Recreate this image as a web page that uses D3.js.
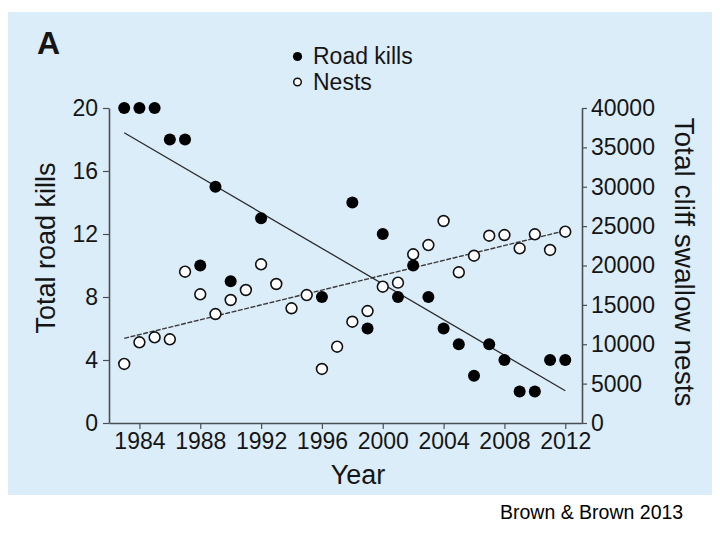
<!DOCTYPE html>
<html>
<head>
<meta charset="utf-8">
<script src="https://cdn.jsdelivr.net/npm/d3@7"></script>
<style>
  html, body { margin: 0; padding: 0; background: #ffffff; }
  svg { display: block; font-family: "Liberation Sans", Arial, Helvetica, sans-serif; }
</style>
</head>
<body>
<svg id="chart" width="720" height="540"></svg>
<script>
// ---- Data ----
const killYears = [1983, 1984, 1985, 1986, 1987, 1988, 1989, 1990, 1992, 1996, 1998, 1999, 2000,
                   2001, 2002, 2003, 2004, 2005, 2006, 2007, 2008, 2009, 2010, 2011, 2012];
const roadKills = [20, 20, 20, 18, 18, 10, 15, 9, 13, 8, 14, 6, 12,
                   8, 10, 8, 6, 5, 3, 5, 4, 2, 2, 4, 4];

const nestYears = [1983, 1984, 1985, 1986, 1987, 1988, 1989, 1990, 1991, 1992, 1993, 1994, 1995,
                   1996, 1997, 1998, 1999, 2000, 2001, 2002, 2003, 2004, 2005, 2006, 2007,
                   2008, 2009, 2010, 2011, 2012];
const nests = [7500, 10250, 10880, 10630, 19210, 16340, 13840, 15620, 16890, 20150, 17650, 14570, 16250,
               6860, 9690, 12860, 14220, 17310, 17820, 21420, 22600, 25650, 19140, 21240, 23780,
               23870, 22180, 23960, 21970, 24290];

// fitted trend lines (endpoints)
const trendYears = [1983, 2012];
const killTrend = [18.43, 2.05];
const nestTrend = [10750, 24420];

const xTicks = [1984, 1988, 1992, 1996, 2000, 2004, 2008, 2012];
const leftTicks = [0, 4, 8, 12, 16, 20];
const rightTicks = [0, 5000, 10000, 15000, 20000, 25000, 30000, 35000, 40000];

// ---- Layout ----
const svg = d3.select("#chart");
svg.append("rect").attr("x", 8).attr("y", 12).attr("width", 704).attr("height", 483)
  .attr("fill", "#dcedfa");

const x = d3.scaleLinear().domain([1982, 2013.1]).range([109, 582]);
const yL = d3.scaleLinear().domain([0, 20]).range([423, 108]);
const yR = d3.scaleLinear().domain([0, 40000]).range([423, 108]);

const axisColor = "#4a4f55";
const textColor = "#151515";

function styleAxis(g) {
  g.selectAll(".domain").attr("stroke", axisColor).attr("stroke-width", 1.6);
  g.selectAll(".tick line").attr("stroke", axisColor).attr("stroke-width", 1.2);
  g.selectAll(".tick text").attr("fill", textColor).attr("font-size", 23)
    .attr("font-family", "'Liberation Sans', Arial, sans-serif");
}

svg.append("g").attr("transform", "translate(0,423)")
  .call(d3.axisBottom(x).tickValues(xTicks).tickFormat(d3.format("d")).tickSize(6).tickSizeOuter(0).tickPadding(4))
  .call(styleAxis);

svg.append("g").attr("transform", "translate(109,0)")
  .call(d3.axisLeft(yL).tickValues(leftTicks).tickSize(6).tickSizeOuter(0).tickPadding(5))
  .call(styleAxis);

svg.append("g").attr("transform", "translate(582,0)")
  .call(d3.axisRight(yR).tickValues(rightTicks).tickFormat(d3.format("d")).tickSize(5).tickSizeOuter(0).tickPadding(4))
  .call(styleAxis);

// ---- Trend lines ----
const killLine = d3.line().x((d, i) => x(trendYears[i])).y(d => yL(d));
svg.append("path").datum(killTrend).attr("d", killLine)
  .attr("fill", "none").attr("stroke", "#2a2a2a").attr("stroke-width", 1.3);

const nestLine = d3.line().x((d, i) => x(trendYears[i])).y(d => yR(d));
svg.append("path").datum(nestTrend).attr("d", nestLine)
  .attr("fill", "none").attr("stroke", "#3a3a3a").attr("stroke-width", 1.4)
  .attr("stroke-dasharray", "5,1.5");

// ---- Points ----
svg.append("g").selectAll("circle").data(roadKills).join("circle")
  .attr("cx", (d, i) => x(killYears[i])).attr("cy", d => yL(d))
  .attr("r", 6).attr("fill", "#000");

svg.append("g").selectAll("circle").data(nests).join("circle")
  .attr("cx", (d, i) => x(nestYears[i])).attr("cy", d => yR(d))
  .attr("r", 5.4).attr("fill", "#fff").attr("stroke", "#111").attr("stroke-width", 1.6);

// ---- Text ----
svg.append("text").attr("x", 37).attr("y", 54).attr("font-size", 32).attr("font-weight", "bold")
  .attr("fill", textColor).text("A");

svg.append("circle").attr("cx", 297.5).attr("cy", 56.5).attr("r", 4.6).attr("fill", "#000");
svg.append("text").attr("x", 313).attr("y", 64).attr("font-size", 23).attr("fill", textColor).text("Road kills");
svg.append("circle").attr("cx", 297.5).attr("cy", 82).attr("r", 3.8).attr("fill", "#fff")
  .attr("stroke", "#111").attr("stroke-width", 1.5);
svg.append("text").attr("x", 313).attr("y", 89.5).attr("font-size", 23).attr("fill", textColor).text("Nests");

svg.append("text").attr("x", 358).attr("y", 484).attr("text-anchor", "middle")
  .attr("font-size", 27).attr("fill", textColor).text("Year");

svg.append("text").attr("transform", "translate(55,248) rotate(-90)").attr("text-anchor", "middle")
  .attr("font-size", 27).attr("fill", textColor).text("Total road kills");

svg.append("text").attr("transform", "translate(675,262) rotate(90)").attr("text-anchor", "middle")
  .attr("font-size", 28).attr("fill", textColor).text("Total cliff swallow nests");

svg.append("text").attr("x", 500).attr("y", 519).attr("font-size", 19.5).attr("fill", "#000")
  .text("Brown & Brown 2013");
</script>
</body>
</html>
